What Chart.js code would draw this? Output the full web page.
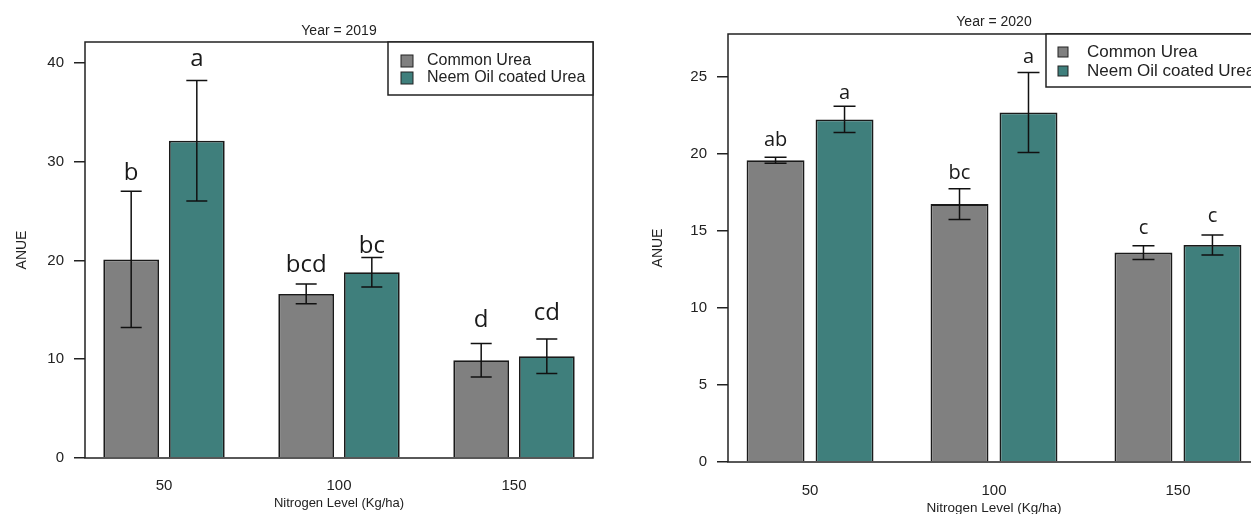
<!DOCTYPE html>
<html>
<head>
<meta charset="utf-8">
<script src="https://cdn.jsdelivr.net/npm/chart.js@4.4.0/dist/chart.umd.min.js"></script>
<style>
  html, body { margin: 0; padding: 0; background: #fff; overflow: hidden; }
  body { width: 1251px; height: 514px; position: relative; }
  canvas { position: absolute; top: 0; }
  #c2019 { left: 0; }
  #c2020 { left: 620px; }
</style>
</head>
<body>
<canvas id="c2019" width="620" height="514"></canvas>
<canvas id="c2020" width="650" height="514"></canvas>
<script>
// Data
const levels = [50, 100, 150];
const seriesNames = ['Common Urea', 'Neem Oil coated Urea'];
const seriesColors = ['#808080', '#3f7f7c'];

// Year 2019
const common2019 = [20.1, 16.6, 9.9];
const neem2019 = [32.1, 18.8, 10.3];
const commonErr2019 = [6.9, 1.0, 1.7];
const neemErr2019 = [6.1, 1.5, 1.75];
const commonLetters2019 = ['b', 'bcd', 'd'];
const neemLetters2019 = ['a', 'bc', 'cd'];
const commonLetterY2019 = [28.1, 18.8, 13.3];
const neemLetterY2019 = [39.7, 20.7, 14.0];
const yTicks2019 = [0, 10, 20, 30, 40];

// Year 2020
const common2020 = [19.6, 16.75, 13.6];
const neem2020 = [22.25, 22.7, 14.1];
const commonErr2020 = [0.2, 1.0, 0.45];
const neemErr2020 = [0.85, 2.6, 0.65];
const commonLetters2020 = ['ab', 'bc', 'c'];
const neemLetters2020 = ['a', 'a', 'c'];
const commonLetterY2020 = [20.5, 18.35, 14.8];
const neemLetterY2020 = [23.55, 25.9, 15.6];
const yTicks2020 = [0, 5, 10, 15, 20, 25];

const INK = '#222';
const SANS = '"Liberation Sans", Arial, sans-serif';

// draws error bars, letters, frame, legend, titles
const annotate = {
  id: 'annotate',
  afterDraw(chart, args, o) {
    const ctx = chart.ctx, a = chart.chartArea, y = chart.scales.y;
    ctx.save();

    chart.data.datasets.forEach((ds, di) => {
      chart.getDatasetMeta(di).data.forEach((bar, i) => {
        const v = ds.data[i], e = ds.err[i];
        const t = y.getPixelForValue(v + e), b = y.getPixelForValue(v - e);
        ctx.strokeStyle = '#111';
        ctx.lineWidth = 1.5;
        ctx.beginPath();
        ctx.moveTo(bar.x, t); ctx.lineTo(bar.x, b);
        ctx.moveTo(bar.x - o.cap / 2, t); ctx.lineTo(bar.x + o.cap / 2, t);
        ctx.moveTo(bar.x - o.cap / 2, b); ctx.lineTo(bar.x + o.cap / 2, b);
        ctx.stroke();
        ctx.fillStyle = '#1a1a1a';
        ctx.font = o.letterSize + 'px "Open Sans", sans-serif';
        ctx.textAlign = 'center';
        ctx.textBaseline = 'alphabetic';
        ctx.fillText(ds.letters[i], bar.x, y.getPixelForValue(ds.letterY[i]));
      });
    });

    // plot frame
    ctx.strokeStyle = INK;
    ctx.lineWidth = 1.5;
    ctx.strokeRect(a.left, a.top, a.right - a.left, a.bottom - a.top);

    // legend
    ctx.fillStyle = '#fff';
    ctx.fillRect(o.legendLeft, a.top, a.right - o.legendLeft, o.legendBottom - a.top);
    ctx.strokeRect(o.legendLeft, a.top, a.right - o.legendLeft, o.legendBottom - a.top);
    ctx.font = o.legendSize + 'px ' + SANS;
    ctx.textAlign = 'left';
    ctx.textBaseline = 'middle';
    seriesNames.forEach((name, i) => {
      const cy = a.top + o.legendRows[i];
      ctx.fillStyle = seriesColors[i];
      ctx.fillRect(o.legendLeft + o.boxX, cy - o.boxS / 2, o.boxS, o.boxS);
      ctx.strokeStyle = INK;
      ctx.lineWidth = 1;
      ctx.strokeRect(o.legendLeft + o.boxX, cy - o.boxS / 2, o.boxS, o.boxS);
      ctx.fillStyle = INK;
      ctx.fillText(name, o.legendLeft + o.textX, cy);
    });

    // titles
    const cx = (a.left + a.right) / 2;
    ctx.fillStyle = INK;
    ctx.textAlign = 'center';
    ctx.font = o.titleSize + 'px ' + SANS;
    ctx.fillText(o.title, cx, o.titleY);
    ctx.font = o.axisSize + 'px ' + SANS;
    ctx.fillText('Nitrogen Level (Kg/ha)', cx, o.xTitleY);
    ctx.save();
    ctx.translate(o.yTitleX, o.yTitleY);
    ctx.rotate(-Math.PI / 2);
    ctx.font = '14px ' + SANS;
    ctx.fillText('ANUE', 0, 0);
    ctx.restore();

    ctx.restore();
  }
};

function makeChart(id, c) {
  return new Chart(document.getElementById(id), {
    type: 'bar',
    data: {
      labels: levels,
      datasets: [
        { label: seriesNames[0], data: c.common, err: c.commonErr, letters: c.commonLetters, letterY: c.commonLetterY,
          backgroundColor: seriesColors[0], borderColor: '#1a1a1a', borderWidth: 1.8,
          categoryPercentage: c.catPct, barPercentage: c.barPct },
        { label: seriesNames[1], data: c.neem, err: c.neemErr, letters: c.neemLetters, letterY: c.neemLetterY,
          backgroundColor: seriesColors[1], borderColor: '#1a1a1a', borderWidth: 1.8,
          categoryPercentage: c.catPct, barPercentage: c.barPct }
      ]
    },
    options: {
      responsive: false,
      animation: false,
      devicePixelRatio: 1,
      layout: { padding: { top: c.padTop, right: c.padRight, left: 0, bottom: 0 } },
      scales: {
        x: {
          type: 'linear',
          offset: false,
          min: c.xMin,
          max: c.xMax,
          grid: { display: false },
          border: { display: false },
          afterBuildTicks: s => { s.ticks = levels.map(v => ({ value: v })); },
          afterFit: s => { s.height = c.xHeight; },
          ticks: { color: INK, padding: c.xTickPad, font: { family: SANS, size: 15 } }
        },
        y: {
          min: 0,
          max: c.yMax,
          grid: { drawOnChartArea: false, drawTicks: true, tickLength: 11, color: INK, lineWidth: 1.5 },
          border: { display: false },
          afterBuildTicks: s => { s.ticks = c.yTicks.map(v => ({ value: v })); },
          afterFit: s => { s.width = c.yWidth; },
          ticks: { color: INK, padding: 10, font: { family: SANS, size: 15 } }
        }
      },
      plugins: {
        legend: { display: false },
        tooltip: { enabled: false },
        annotate: c.ann
      }
    },
    plugins: [annotate]
  });
}

makeChart('c2019', {
  common: common2019, neem: neem2019, commonErr: commonErr2019, neemErr: neemErr2019,
  commonLetters: commonLetters2019, neemLetters: neemLetters2019,
  commonLetterY: commonLetterY2019, neemLetterY: neemLetterY2019,
  yTicks: yTicks2019, yMax: 42.1, xMin: 27.43, xMax: 172.57,
  padTop: 42, padRight: 27, yWidth: 85, xHeight: 56, xTickPad: 11,
  catPct: 0.75, barPct: 0.85,
  ann: { title: 'Year = 2019', titleY: 31, titleSize: 14, axisSize: 13, xTitleY: 503,
         yTitleX: 22, yTitleY: 250, cap: 21, letterSize: 24,
         legendLeft: 388, legendBottom: 95, legendSize: 16, legendRows: [19, 36],
         boxX: 13, boxS: 12, textX: 39 }
});

makeChart('c2020', {
  common: common2020, neem: neem2020, commonErr: commonErr2020, neemErr: neemErr2020,
  commonLetters: commonLetters2020, neemLetters: neemLetters2020,
  commonLetterY: commonLetterY2020, neemLetterY: neemLetterY2020,
  yTicks: yTicks2020, yMax: 27.8, xMin: 27.7, xMax: 172.3,
  padTop: 34, padRight: 10, yWidth: 108, xHeight: 52, xTickPad: 12,
  catPct: 0.75, barPct: 0.84,
  ann: { title: 'Year = 2020', titleY: 22, titleSize: 14, axisSize: 13.5, xTitleY: 508,
         yTitleX: 38, yTitleY: 248, cap: 22, letterSize: 20,
         legendLeft: 426, legendBottom: 87, legendSize: 17, legendRows: [18, 37],
         boxX: 12, boxS: 10, textX: 41 }
});
</script>
</body>
</html>
